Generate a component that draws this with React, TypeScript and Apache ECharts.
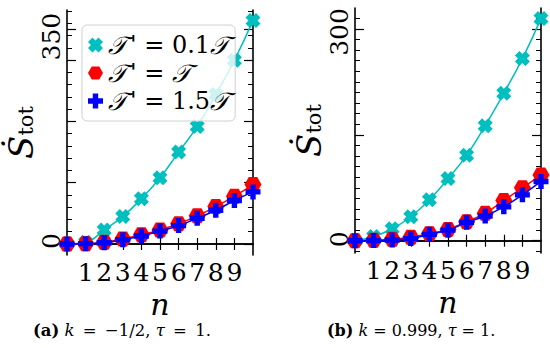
import React, { useEffect, useRef } from "react";
import * as echarts from "echarts";

const nValues = [0, 1, 2, 3, 4, 5, 6, 7, 8, 9, 10];
const xTickLabels = [1, 2, 3, 4, 5, 6, 7, 8, 9];

const leftCyan = [0, 3, 23, 45, 74, 108, 150, 192, 244, 300, 365];
const leftRed = [0, 0.5, 3, 8, 15, 23, 33, 46, 61, 78, 97];
const leftBlue = [0, 0.5, 2, 7, 13, 21, 30, 42, 55, 71, 85];

const rightCyan = [0, 6, 17, 34, 58, 88, 121, 163, 209, 258, 315];
const rightRed = [0, 0.5, 2, 5, 10, 16, 27, 39, 57, 75, 93];
const rightBlue = [0, 0.3, 1, 3, 9, 15, 26, 35, 48, 65, 84];

const leftYLabels = [0, 350];
const leftYMajor = [0, 100, 200, 300, 350];
const rightYLabels = [0, 300];
const rightYMajor = [0, 150, 300];

const seriesNames = ["0.1T", "T", "1.5T"];

const CYAN = "#00bfbf";
const RED = "#ff0000";
const BLUE = "#0000ff";

const X_ICON =
  "path://M3,0 L5,2 L7,0 L10,3 L8,5 L10,7 L7,10 L5,8 L3,10 L0,7 L2,5 L0,3 Z";
const HEX_ICON = "path://M2.5,0 L7.5,0 L10,4.33 L7.5,8.66 L2.5,8.66 L0,4.33 Z";
const PLUS_ICON =
  "path://M3.2,0 L6.8,0 L6.8,3.2 L10,3.2 L10,6.8 L6.8,6.8 L6.8,10 L3.2,10 L3.2,6.8 L0,6.8 L0,3.2 L3.2,3.2 Z";

const FONT = "'DejaVu Serif'";

function range(a: number, b: number, step: number) {
  const out: number[] = [];
  for (let v = a; v <= b + 1e-9; v += step) out.push(v);
  return out;
}

export default function App() {
  const ref = useRef<HTMLDivElement>(null);
  useEffect(() => {
    if (!ref.current) return;
    const chart = echarts.init(ref.current, undefined, { renderer: "svg" });

    const grids = [
      { left: 67, top: 10, width: 186, height: 245, min: -18, max: 382, labels: leftYLabels, major: leftYMajor, minor: range(0, 380, 20), shift: [6, 14], gap: 21 },
      { left: 355, top: 8, width: 186, height: 245, min: -17.4, max: 329.7, labels: rightYLabels, major: rightYMajor, minor: range(-15, 315, 15), shift: [3, 6], gap: 22 },
    ];

    const xAxis: any[] = [];
    const yAxis: any[] = [];
    grids.forEach((g, gi) => {
      ["bottom", "top"].forEach((pos) => {
        xAxis.push({
          type: "value",
          gridIndex: gi,
          position: pos,
          min: 0,
          max: 10,
          name: pos === "bottom" ? "n" : "",
          nameLocation: "middle",
          nameGap: 31,
          nameTextStyle: { fontFamily: FONT, fontStyle: "italic", fontSize: 30, lineHeight: 22, color: "#000" },
          axisLine: { show: true, lineStyle: { color: "#000", width: 1.6 } },
          axisTick: { show: true, inside: true, length: 6, customValues: xTickLabels, lineStyle: { color: "#000", width: 1.2 } },
          axisLabel: {
            show: pos === "bottom",
            customValues: xTickLabels,
            fontFamily: FONT,
            fontSize: 25,
            color: "#000",
            margin: 5,
          },
          splitLine: { show: false },
        });
      });
      ["left", "right"].forEach((pos) => {
        yAxis.push({
          type: "value",
          gridIndex: gi,
          position: pos,
          min: g.min,
          max: g.max,
          name: pos === "left" ? "{s|\u1E60}{t|tot}" : "",
          nameLocation: "middle",
          nameRotate: 90,
          nameGap: g.gap,
          nameTextStyle: {
            fontFamily: FONT,
            rich: {
              s: { fontFamily: FONT, fontStyle: "italic", fontSize: 34, color: "#000", lineHeight: 30 },
              t: { fontFamily: FONT, fontSize: 21, color: "#000", lineHeight: 30, verticalAlign: "bottom", padding: [12, 0, 0, 0] },
            },
          },
          axisLine: { show: true, lineStyle: { color: "#000", width: 1.6 } },
          axisTick: { show: true, inside: true, length: 9, customValues: g.major, lineStyle: { color: "#000", width: 1.2 } },
          axisLabel: {
            show: pos === "left",
            customValues: g.labels,
            rotate: 90,
            fontFamily: FONT,
            fontSize: 25,
            color: "#000",
            margin: 3,
            formatter: (v: number) => (v === 0 ? "{z|0}" : `{top|${v}}`),
            rich: {
              z: { fontFamily: FONT, fontSize: 25, color: "#000", padding: [0, 0, 0, g.shift[0]] },
              top: { fontFamily: FONT, fontSize: 25, color: "#000", padding: [0, g.shift[1], 0, 0] },
            },
          },
          splitLine: { show: false },
        });
        yAxis.push({
          type: "value",
          gridIndex: gi,
          position: pos,
          min: g.min,
          max: g.max,
          axisLine: { show: false },
          axisTick: { show: true, inside: true, length: 5, customValues: g.minor, lineStyle: { color: "#000", width: 1 } },
          axisLabel: { show: false },
          splitLine: { show: false },
        });
      });
    });

    const panelData = [
      [leftCyan, leftRed, leftBlue],
      [rightCyan, rightRed, rightBlue],
    ];
    const colors = [CYAN, RED, BLUE];
    const icons = [X_ICON, HEX_ICON, PLUS_ICON];
    const sizes: any[] = [15, [17, 15], 15];

    const series: any[] = [];
    panelData.forEach((arrs, gi) => {
      arrs.forEach((arr, si) => {
        series.push({
          type: "line",
          name: seriesNames[si],
          xAxisIndex: gi * 2,
          yAxisIndex: gi * 4,
          smooth: true,
          data: nValues.map((n, i) => [n, arr[i]]),
          symbol: icons[si],
          symbolSize: sizes[si],
          showAllSymbol: true,
          clip: false,
          lineStyle: { color: colors[si], width: 1.5 },
          itemStyle: { color: colors[si] },
          z: 2 + si,
        });
      });
    });

    const T = "\uD835\uDCAF";
    const legendLabel: Record<string, string> = {
      "0.1T": `{c|${T}}{p|'}{e| = }0.1{c|${T}}`,
      T: `{c|${T}}{p|'}{e| = }{c|${T}}`,
      "1.5T": `{c|${T}}{p|'}{e| = }1.5{c|${T}}`,
    };

    const capStyle = (fs: number) => ({
      fontFamily: FONT,
      fontSize: fs,
      fontWeight: "normal",
      color: "#000",
      rich: {
        b: { fontFamily: FONT, fontWeight: "bold", fontSize: fs, color: "#000" },
        i: { fontFamily: FONT, fontStyle: "italic", fontSize: fs, color: "#000" },
      },
    });

    chart.setOption({
      animation: false,
      backgroundColor: "#fff",
      textStyle: { fontFamily: FONT },
      grid: grids.map((g) => ({ left: g.left, top: g.top, width: g.width, height: g.height })),
      xAxis,
      yAxis,
      legend: {
        orient: "vertical",
        left: 82,
        top: 25,
        padding: [7, 6, 7, 6],
        itemGap: 2,
        itemWidth: 15,
        itemHeight: 15,
        borderColor: "#d0d0d0",
        borderWidth: 1,
        borderRadius: 5,
        backgroundColor: "rgba(255,255,255,0.8)",
        data: seriesNames.map((name, i) => ({ name, icon: icons[i], itemStyle: { color: colors[i] } })),
        formatter: (name: string) => legendLabel[name],
        textStyle: {
          fontFamily: FONT,
          fontSize: 24,
          lineHeight: 26,
          color: "#000",
          rich: {
            c: { fontFamily: "'DejaVu Sans'", fontStyle: "italic", fontSize: 25, color: "#000", lineHeight: 26 },
            p: { fontFamily: FONT, fontSize: 24, color: "#000", lineHeight: 26, padding: [0, 0, 0, 3] },
            e: { fontFamily: FONT, fontSize: 24, color: "#000", lineHeight: 26 },
          },
        },
      },
      title: [
        { text: "{b|(a)} {i|k}\u2002=\u2002\u22121/2, {i|\u03C4}\u2002=\u20021.", left: 33, top: 322, padding: 0, textStyle: capStyle(16.5) },
        { text: "{b|(b)} {i|k} = 0.999, {i|\u03C4} = 1.", left: 327, top: 322, padding: 0, textStyle: capStyle(16) },
      ],
      series,
    });
    return () => chart.dispose();
  }, []);
  return <div ref={ref} style={{ width: 550, height: 348, position: "absolute", left: 0, top: 0 }} />;
}
